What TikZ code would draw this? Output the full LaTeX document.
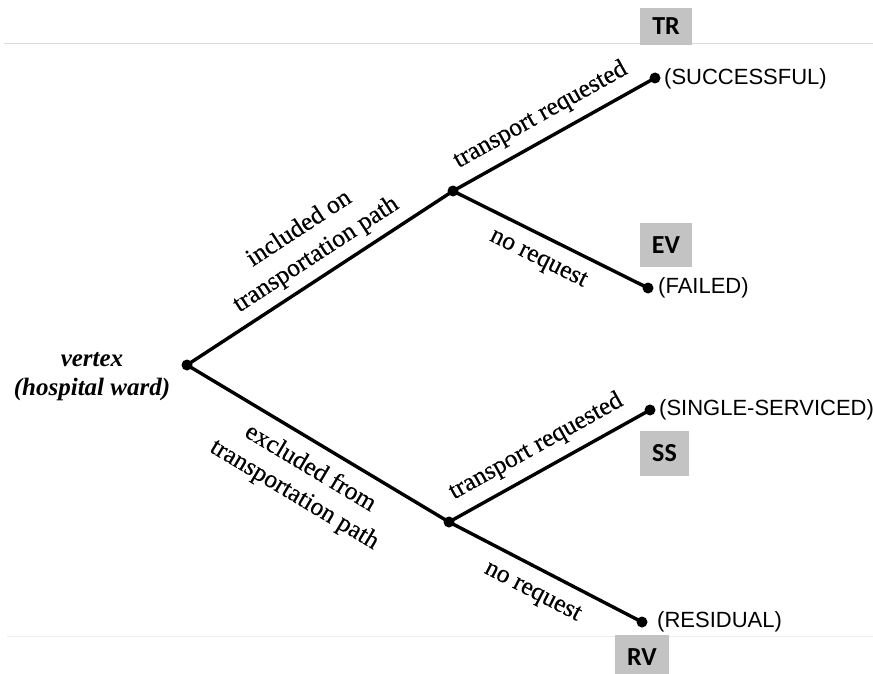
\documentclass[tikz,border=0pt]{standalone}
\usepackage{fontspec}
\setmainfont{Liberation Serif}
\newfontfamily\labfont[FakeBold=0.3]{Liberation Serif}
\newfontfamily\armfont{Liberation Sans}
\newfontfamily\tagfont{Carlito}
\definecolor{tagfill}{RGB}{195,195,195}
\definecolor{toprule}{RGB}{218,218,218}
\definecolor{botrule}{RGB}{238,238,238}

\begin{document}
\begin{tikzpicture}[x=1pt,y=-1pt,
  branch/.style={line width=3.4pt, line cap=round},
  junction/.style={circle, fill=black, inner sep=0pt, minimum size=11pt},
  edgelabel/.style={sloped, font=\labfont\fontsize{25.5}{31}\selectfont, align=center, inner sep=8pt},
  outcome/.style={anchor=west, font=\armfont\fontsize{22}{26}\selectfont, inner sep=0pt},
  tag/.style={fill=tagfill, font=\tagfont\bfseries\fontsize{26}{30}\selectfont, inner sep=0pt},
  sheetrule/.style={line width=1pt}]

\clip (0,0) rectangle (873,674);

% page rules
\coordinate (tl) at (4,44);  \coordinate (tr) at (873,44);
\coordinate (bl) at (7,636); \coordinate (br) at (873,636);
\draw[sheetrule, toprule] (tl) -- (tr);
\draw[sheetrule, botrule] (bl) -- (br);

% category tags
\node[tag, minimum width=52pt, minimum height=37pt] (tagTR) at (666,26.5) {TR};
\node[tag, minimum width=52pt, minimum height=44pt] (tagEV) at (666,245) {EV};
\node[tag, minimum width=49pt, minimum height=45pt] (tagSS) at (664.5,453.5) {SS};
\node[tag, minimum width=54pt, minimum height=44pt] (tagRV) at (642,657) {RV};

% tree vertices
\node[junction] (root) at (187,365) {};
\node[junction] (up)   at (453,191) {};
\node[junction] (lo)   at (449,522) {};
\node[junction] (suc)  at (655,78)  {};
\node[junction] (fail) at (648,288) {};
\node[junction] (sgl)  at (650,410) {};
\node[junction] (res)  at (642,622) {};

% branches with their labels
\draw[branch] (root.center) -- node[edgelabel, pos=0.53, above] {included on\\transportation path} (up.center);
\draw[branch] (root.center) -- node[edgelabel, pos=0.52, below, inner sep=12pt] {excluded from\\transportation path} (lo.center);
\draw[branch] (up.center) -- node[edgelabel, pos=0.49, above, inner sep=10pt] {transport requested} (suc.center);
\draw[branch] (up.center) -- node[edgelabel, pos=0.49, below, inner sep=12pt] {no request} (fail.center);
\draw[branch] (lo.center) -- node[edgelabel, pos=0.49, above, inner sep=10pt] {transport requested} (sgl.center);
\draw[branch] (lo.center) -- node[edgelabel, pos=0.49, below, inner sep=13pt] {no request} (res.center);

% outcomes
\node[outcome] (oSuc)  at (664,79)  {(SUCCESSFUL)};
\node[outcome] (oFail) at (658,288) {(FAILED)};
\node[outcome] (oSgl)  at (659,410) {(SINGLE-SERVICED)};
\node[outcome] (oRes)  at (657,622) {(RESIDUAL)};

% root label
\node[font=\bfseries\itshape\fontsize{25}{29}\selectfont, align=center] (vlabel) at (92,377) {vertex\\(hospital ward)};
\end{tikzpicture}
\end{document}
